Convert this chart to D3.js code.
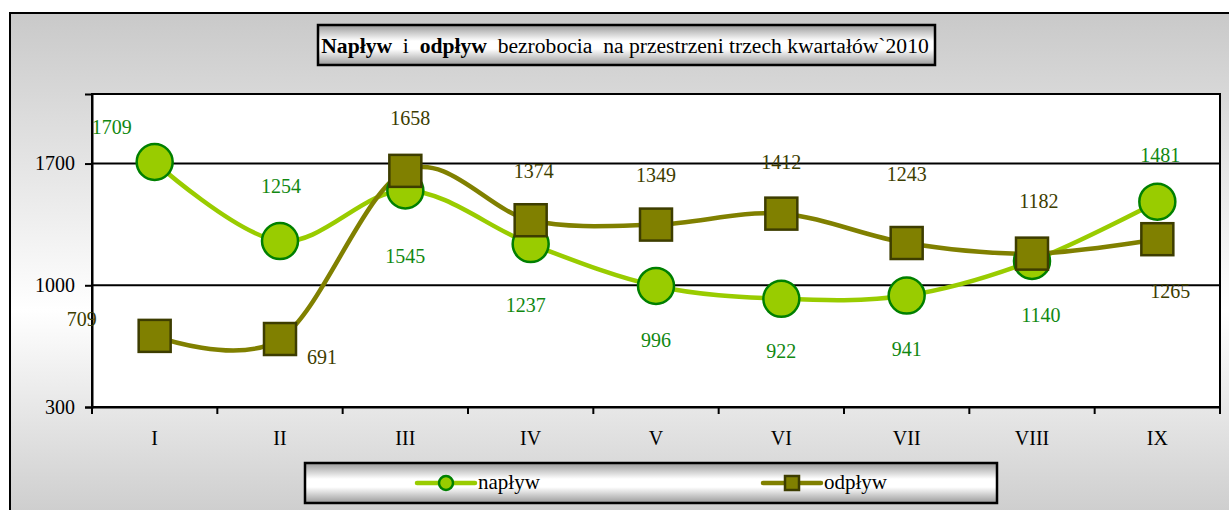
<!DOCTYPE html>
<html>
<head>
<meta charset="utf-8">
<script src="https://cdn.jsdelivr.net/npm/d3@7"></script>
<style>
  html, body { margin: 0; padding: 0; background: #fff; }
  svg { display: block; font-family: "Liberation Serif", "Times New Roman", serif; }
</style>
</head>
<body>
<div id="chart"></div>
<script>
// months of the three quarters
const months = ['I', 'II', 'III', 'IV', 'V', 'VI', 'VII', 'VIII', 'IX']
const naplyw = [1709, 1254, 1545, 1237, 996, 922, 941, 1140, 1481]
const odplyw = [709, 691, 1658, 1374, 1349, 1412, 1243, 1182, 1265]
const yTicks = [300, 1000, 1700]

// where each value label sits relative to its marker (dx, dy)
const naplywLabelOffsets = [[-43, -35], [1, -55], [0, 65], [-5, 61], [0, 54], [0, 52], [0, 53], [9, 54], [3, -47]]
const odplywLabelOffsets = [[-73, -17], [42, 18], [5, -53], [3, -49], [0, -50], [0, -52], [0, -69], [7, -53], [13, 52]]

const W = 1229, H = 510
const plot = {left: 92, right: 1220, top: 94, bottom: 407}
const SERIF = '"Liberation Serif", "Times New Roman", serif'

const svg = d3.select('#chart').append('svg')
    .attr('width', W)
    .attr('height', H)

const defs = svg.append('defs')

const frameGrad = defs.append('linearGradient')
    .attr('id', 'frame-grad')
    .attr('x1', 0).attr('y1', 0).attr('x2', 0).attr('y2', 1)
frameGrad.selectAll('stop')
    .data([{o: '0%', c: '#c9c9c9'}, {o: '55%', c: '#ffffff'}, {o: '100%', c: '#c4c4c4'}])
  .enter().append('stop')
    .attr('offset', d => d.o)
    .attr('stop-color', d => d.c)

const boxGrad = defs.append('linearGradient')
    .attr('id', 'box-grad')
    .attr('x1', 0).attr('y1', 0).attr('x2', 0).attr('y2', 1)
boxGrad.selectAll('stop')
    .data([{o: '0%', c: '#9a9a9a'}, {o: '40%', c: '#ffffff'}, {o: '60%', c: '#ffffff'}, {o: '100%', c: '#9a9a9a'}])
  .enter().append('stop')
    .attr('offset', d => d.o)
    .attr('stop-color', d => d.c)

// outer chart frame
svg.append('rect')
    .attr('x', 10).attr('y', 13)
    .attr('width', 1240).attr('height', 540)
    .attr('fill', 'url(#frame-grad)')
    .attr('stroke', '#000')
    .attr('stroke-width', 2)

// plot area
svg.append('rect')
    .attr('x', plot.left).attr('y', plot.top)
    .attr('width', plot.right - plot.left).attr('height', plot.bottom - plot.top)
    .attr('fill', '#fff')
    .attr('stroke', '#000')
    .attr('stroke-width', 2)

const x = d3.scaleBand()
    .domain(months)
    .range([plot.left, plot.right])

const y = d3.scaleLinear()
    .domain([300, 2100])
    .range([plot.bottom, plot.top])

const cx = m => x(m) + x.bandwidth() / 2

// gridlines
svg.append('g')
  .selectAll('line')
  .data(yTicks.slice(1))
  .enter().append('line')
    .attr('x1', plot.left).attr('x2', plot.right)
    .attr('y1', d => y(d)).attr('y2', d => y(d))
    .attr('stroke', '#000')
    .attr('stroke-width', 2)

// y axis
const yAxis = svg.append('g')
    .attr('transform', 'translate(' + plot.left + ',0)')
    .call(d3.axisLeft(y).tickValues(yTicks).tickFormat(d3.format('d')).tickSize(7).tickPadding(10))
yAxis.select('.domain').attr('stroke', '#000').attr('stroke-width', 2)
yAxis.selectAll('.tick line').attr('stroke', '#000').attr('stroke-width', 2)
yAxis.selectAll('.tick text')
    .attr('font-family', SERIF)
    .attr('font-size', 20)
    .attr('fill', '#000')

// x axis: labels at band centres, ticks at band edges
const xAxis = svg.append('g')
    .attr('transform', 'translate(0,' + plot.bottom + ')')
    .call(d3.axisBottom(x).tickSize(0).tickPadding(24))
xAxis.select('.domain').attr('stroke', '#000').attr('stroke-width', 2)
xAxis.selectAll('.tick text')
    .attr('font-family', SERIF)
    .attr('font-size', 20)
    .attr('fill', '#000')

const edges = months.map(m => x(m)).concat([plot.right])
svg.append('g')
  .selectAll('line')
  .data(edges)
  .enter().append('line')
    .attr('x1', d => d).attr('x2', d => d)
    .attr('y1', plot.bottom).attr('y2', plot.bottom + 7)
    .attr('stroke', '#000')
    .attr('stroke-width', 2)

const line = d3.line()
    .x(d => cx(d.m))
    .y(d => y(d.v))
    .curve(d3.curveCatmullRom.alpha(0))

const napData = months.map((m, i) => ({m: m, v: naplyw[i]}))
const odpData = months.map((m, i) => ({m: m, v: odplyw[i]}))

const NAP_LINE = '#99cc00', NAP_STROKE = '#008000', NAP_TEXT = '#118811'
const ODP_LINE = '#808000', ODP_STROKE = '#3d3d00', ODP_TEXT = '#3d3d00'

svg.append('path')
    .datum(napData)
    .attr('d', line)
    .attr('fill', 'none')
    .attr('stroke', NAP_LINE)
    .attr('stroke-width', 4.5)

svg.append('path')
    .datum(odpData)
    .attr('d', line)
    .attr('fill', 'none')
    .attr('stroke', ODP_LINE)
    .attr('stroke-width', 4.5)

svg.append('g')
  .selectAll('circle')
  .data(napData)
  .enter().append('circle')
    .attr('cx', d => cx(d.m))
    .attr('cy', d => y(d.v))
    .attr('r', 18)
    .attr('fill', NAP_LINE)
    .attr('stroke', NAP_STROKE)
    .attr('stroke-width', 2.5)

svg.append('g')
  .selectAll('rect')
  .data(odpData)
  .enter().append('rect')
    .attr('x', d => cx(d.m) - 16)
    .attr('y', d => y(d.v) - 16)
    .attr('width', 32)
    .attr('height', 32)
    .attr('fill', ODP_LINE)
    .attr('stroke', ODP_STROKE)
    .attr('stroke-width', 2.5)

// value labels
function drawLabels(data, offsets, color) {
  svg.append('g')
    .selectAll('text')
    .data(data)
    .enter().append('text')
      .attr('x', (d, i) => cx(d.m) + offsets[i][0])
      .attr('y', (d, i) => y(d.v) + offsets[i][1])
      .attr('dy', '0.35em')
      .attr('text-anchor', 'middle')
      .attr('font-family', SERIF)
      .attr('font-size', 20)
      .attr('fill', color)
      .text(d => d.v)
}
drawLabels(napData, naplywLabelOffsets, NAP_TEXT)
drawLabels(odpData, odplywLabelOffsets, ODP_TEXT)

// title box
svg.append('rect')
    .attr('x', 318).attr('y', 25)
    .attr('width', 617).attr('height', 40)
    .attr('fill', 'url(#box-grad)')
    .attr('stroke', '#000')
    .attr('stroke-width', 2.5)

const title = svg.append('text')
    .attr('x', 625).attr('y', 45)
    .attr('dy', '0.35em')
    .attr('text-anchor', 'middle')
    .attr('font-family', SERIF)
    .attr('font-size', 21.6)
    .attr('fill', '#000')
    .attr('xml:space', 'preserve')
title.append('tspan').attr('font-weight', 'bold').text('Napływ')
title.append('tspan').text('  i  ')
title.append('tspan').attr('font-weight', 'bold').text('odpływ')
title.append('tspan').text('  bezrobocia  na przestrzeni trzech kwartałów`2010')

// legend
svg.append('rect')
    .attr('x', 305).attr('y', 463)
    .attr('width', 692).attr('height', 40)
    .attr('fill', 'url(#box-grad)')
    .attr('stroke', '#000')
    .attr('stroke-width', 2.5)

const legendItems = [
  {name: 'napływ', x: 417, color: NAP_LINE, stroke: NAP_STROKE, shape: 'circle'},
  {name: 'odpływ', x: 763, color: ODP_LINE, stroke: ODP_STROKE, shape: 'square'}
]

const legend = svg.append('g')
  .selectAll('g')
  .data(legendItems)
  .enter().append('g')
    .attr('transform', d => 'translate(' + d.x + ',483)')

legend.append('line')
    .attr('x1', 0).attr('x2', 58)
    .attr('stroke', d => d.color)
    .attr('stroke-width', 4.5)
    .attr('stroke-linecap', 'round')

legend.filter(d => d.shape === 'circle').append('circle')
    .attr('cx', 29).attr('r', 7)
    .attr('fill', d => d.color)
    .attr('stroke', d => d.stroke)
    .attr('stroke-width', 2.5)

legend.filter(d => d.shape === 'square').append('rect')
    .attr('x', 22).attr('y', -7)
    .attr('width', 14).attr('height', 14)
    .attr('fill', d => d.color)
    .attr('stroke', d => d.stroke)
    .attr('stroke-width', 2.5)

legend.append('text')
    .attr('x', 61)
    .attr('dy', '0.3em')
    .attr('font-family', SERIF)
    .attr('font-size', 21)
    .attr('fill', '#000')
    .text(d => d.name)
</script>
</body>
</html>
